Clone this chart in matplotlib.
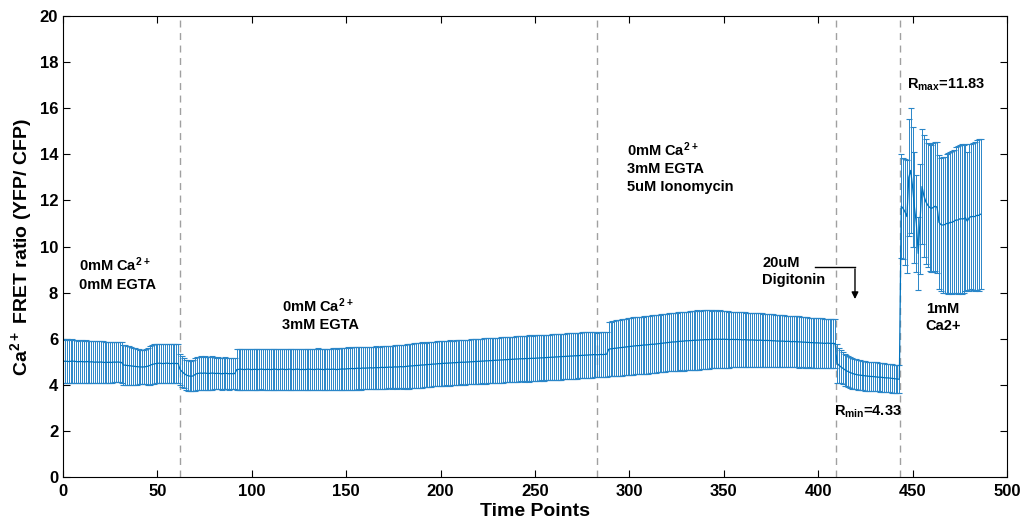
import numpy as np
import matplotlib
matplotlib.use('Agg')
import matplotlib.pyplot as plt

# FRET ratio mean per time point, one value per point
mean_ratio = [
    # 0-61: 0mM Ca2+ / 0mM EGTA
    5.03, 5.02, 5.02, 5.01, 5.02, 5.03, 5.02, 5.01, 5.00, 5.01,
    5.01, 5.00, 5.00, 5.01, 4.99, 5.00, 4.99, 4.98, 4.99, 4.98,
    4.99, 4.98, 4.97, 4.98, 4.97, 4.98, 4.97, 4.99, 4.98, 4.99,
    4.98, 4.97,
    4.86, 4.85, 4.84, 4.83, 4.82, 4.81, 4.80, 4.79, 4.78, 4.78, 4.77, 4.78, 4.79, 4.81, 4.84,
    4.88, 4.90, 4.92, 4.93, 4.94, 4.93, 4.92, 4.93, 4.94, 4.93, 4.92, 4.93, 4.92, 4.93, 4.92,
    # 62-91
    4.66, 4.58, 4.50, 4.44, 4.40, 4.38, 4.37, 4.39, 4.45, 4.49,
    4.50, 4.51, 4.50, 4.51, 4.50, 4.49, 4.50, 4.51, 4.50, 4.49,
    4.50, 4.49, 4.48, 4.49, 4.50, 4.49, 4.48, 4.49, 4.48, 4.49,
    # 92-288: 0mM Ca2+ / 3mM EGTA
    4.66, 4.67, 4.68, 4.67, 4.66, 4.67, 4.68, 4.67, 4.66, 4.67,
    4.67, 4.66, 4.67, 4.68, 4.67, 4.66, 4.67, 4.67, 4.66, 4.67,
    4.68, 4.67, 4.66, 4.67, 4.68, 4.67, 4.66, 4.67, 4.68, 4.67,
    4.66, 4.67, 4.68, 4.67, 4.66, 4.67, 4.66, 4.67, 4.68, 4.67,
    4.67, 4.66, 4.67, 4.68, 4.67, 4.67, 4.66, 4.67, 4.68, 4.67,
    4.67, 4.68, 4.67, 4.66, 4.67, 4.68, 4.69, 4.68, 4.69, 4.70,
    4.70, 4.71, 4.70, 4.71, 4.72, 4.71, 4.72, 4.73, 4.72, 4.73,
    4.73, 4.74, 4.73, 4.74, 4.75, 4.74, 4.75, 4.76, 4.75, 4.76,
    4.76, 4.77, 4.76, 4.77, 4.78, 4.77, 4.78, 4.79, 4.78, 4.79,
    4.80, 4.81, 4.82, 4.82, 4.83, 4.84, 4.84, 4.85, 4.86, 4.86,
    4.87, 4.88, 4.88, 4.89, 4.90, 4.90, 4.91, 4.92, 4.92, 4.93,
    4.93, 4.94, 4.94, 4.95, 4.95, 4.96, 4.96, 4.97, 4.97, 4.98,
    4.98, 4.98, 4.99, 4.99, 5.00, 5.00, 5.01, 5.01, 5.02, 5.02,
    5.03, 5.03, 5.04, 5.04, 5.05, 5.05, 5.06, 5.06, 5.07, 5.07,
    5.08, 5.08, 5.09, 5.09, 5.10, 5.10, 5.11, 5.11, 5.12, 5.12,
    5.13, 5.13, 5.13, 5.14, 5.14, 5.14, 5.15, 5.15, 5.15, 5.16,
    5.16, 5.17, 5.17, 5.18, 5.18, 5.19, 5.19, 5.20, 5.20, 5.21,
    5.21, 5.22, 5.22, 5.23, 5.23, 5.24, 5.24, 5.25, 5.25, 5.26,
    5.26, 5.27, 5.27, 5.28, 5.28, 5.29, 5.29, 5.30, 5.30, 5.31,
    5.31, 5.30, 5.31, 5.32, 5.31, 5.32, 5.33,
    # 289-409: + 5uM Ionomycin
    5.54, 5.56, 5.57, 5.58, 5.59, 5.60, 5.61, 5.62, 5.63, 5.64,
    5.65, 5.66, 5.67, 5.68, 5.69, 5.70, 5.70, 5.71, 5.72, 5.73,
    5.73, 5.74, 5.75, 5.76, 5.76, 5.77, 5.78, 5.79, 5.80, 5.81,
    5.82, 5.83, 5.84, 5.85, 5.86, 5.86, 5.87, 5.88, 5.89, 5.89,
    5.90, 5.91, 5.91, 5.92, 5.92, 5.93, 5.93, 5.94, 5.94, 5.95,
    5.95, 5.96, 5.96, 5.96, 5.97, 5.97, 5.97, 5.98, 5.97, 5.98,
    5.97, 5.98, 5.97, 5.97, 5.96, 5.97, 5.97, 5.96, 5.97, 5.96,
    5.96, 5.95, 5.96, 5.95, 5.95, 5.94, 5.95, 5.94, 5.94, 5.93,
    5.94, 5.93, 5.93, 5.92, 5.93, 5.92, 5.92, 5.91, 5.91, 5.90,
    5.90, 5.89, 5.90, 5.89, 5.88, 5.89, 5.88, 5.87, 5.88, 5.87,
    5.87, 5.86, 5.86, 5.85, 5.85, 5.84, 5.84, 5.83, 5.83, 5.82,
    5.82, 5.82, 5.81, 5.81, 5.80, 5.80, 5.81, 5.80, 5.79, 5.80,
    5.79,
    # 410-443: 20uM Digitonin
    4.93, 4.85, 4.78, 4.72, 4.66, 4.61, 4.57, 4.53, 4.50, 4.47,
    4.45, 4.43, 4.42, 4.41, 4.40, 4.39, 4.38, 4.37, 4.36, 4.36,
    4.35, 4.34, 4.33, 4.33, 4.32, 4.31, 4.30, 4.30, 4.29, 4.28,
    4.27, 4.26, 4.25, 4.24,
    # 444-486: 1mM Ca2+
    11.75, 11.65, 11.5, 11.3, 13.0, 13.3, 12.6, 11.7, 11.0, 9.7,
    11.2, 12.6, 12.2, 11.95, 11.8, 11.7, 11.65, 11.7, 11.75, 11.7,
    11.05, 10.95, 10.93, 10.95, 11.0, 11.0, 11.05, 11.05, 11.1, 11.15,
    11.15, 11.2, 11.2, 11.2, 11.25, 11.1, 11.25, 11.3, 11.3, 11.3,
    11.35, 11.35, 11.4,
]

# error bar half-height per time point
err_ratio = [
    0.95, 0.94, 0.95, 0.93, 0.94, 0.95, 0.93, 0.94, 0.92, 0.93,
    0.93, 0.92, 0.93, 0.91, 0.92, 0.91, 0.93, 0.90, 0.91, 0.90,
    0.89, 0.90, 0.88, 0.89, 0.88, 0.89, 0.87, 0.88, 0.87, 0.88,
    0.87, 0.88,
    0.87, 0.86, 0.85, 0.84, 0.82, 0.80, 0.79, 0.78, 0.76, 0.75, 0.74, 0.75, 0.77, 0.80, 0.84,
    0.86, 0.86, 0.85, 0.86, 0.85, 0.86, 0.85, 0.86, 0.85, 0.86, 0.85, 0.86, 0.85, 0.86, 0.86,
    0.66, 0.66, 0.65, 0.65, 0.66, 0.67, 0.66, 0.67, 0.70, 0.72,
    0.72, 0.73, 0.71, 0.72, 0.72, 0.70, 0.71, 0.72, 0.70, 0.69,
    0.70, 0.69, 0.70, 0.68, 0.69, 0.68, 0.69, 0.68, 0.67, 0.68,
    0.89, 0.88, 0.89, 0.90, 0.89, 0.88, 0.89, 0.90, 0.89, 0.88,
    0.89, 0.90, 0.89, 0.88, 0.89, 0.90, 0.89, 0.88, 0.89, 0.90,
    0.89, 0.88, 0.89, 0.90, 0.89, 0.88, 0.89, 0.90, 0.89, 0.88,
    0.89, 0.90, 0.89, 0.88, 0.89, 0.90, 0.89, 0.88, 0.89, 0.90,
    0.89, 0.88, 0.89, 0.90, 0.89, 0.88, 0.89, 0.90, 0.89, 0.88,
    0.89, 0.90, 0.91, 0.90, 0.91, 0.92, 0.91, 0.92, 0.91, 0.92,
    0.91, 0.92, 0.93, 0.92, 0.91, 0.92, 0.93, 0.92, 0.91, 0.92,
    0.93, 0.92, 0.91, 0.92, 0.93, 0.92, 0.91, 0.92, 0.93, 0.92,
    0.91, 0.92, 0.93, 0.92, 0.93, 0.94, 0.93, 0.94, 0.95, 0.94,
    0.96, 0.97, 0.96, 0.97, 0.98, 0.97, 0.96, 0.97, 0.98, 0.97,
    0.96, 0.97, 0.98, 0.97, 0.96, 0.97, 0.98, 0.97, 0.96, 0.97,
    0.97, 0.96, 0.97, 0.98, 0.97, 0.96, 0.97, 0.98, 0.97, 0.96,
    0.97, 0.98, 0.97, 0.96, 0.97, 0.98, 0.97, 0.96, 0.97, 0.98,
    0.97, 0.98, 0.99, 0.98, 0.97, 0.98, 0.99, 0.98, 0.97, 0.98,
    0.99, 0.98, 0.97, 0.98, 0.99, 0.98, 0.97, 0.98, 0.99, 0.98,
    0.97, 0.98, 0.99, 0.98, 0.99, 1.00, 0.99, 0.98, 0.99, 1.00,
    0.99, 0.98, 0.99, 1.00, 0.99, 0.98, 0.99, 1.00, 0.99, 0.98,
    0.99, 1.00, 0.99, 0.98, 0.99, 1.00, 0.99, 0.98, 0.99, 1.00,
    0.99, 0.98, 0.99, 1.00, 0.99, 0.98, 0.99, 1.00, 0.99, 0.98,
    0.97, 0.96, 0.97, 0.96, 0.97, 0.96, 0.97,
    1.17, 1.18, 1.19, 1.20, 1.21, 1.20, 1.22, 1.23, 1.22, 1.23,
    1.24, 1.23, 1.24, 1.25, 1.24, 1.23, 1.24, 1.25, 1.24, 1.25,
    1.26, 1.25, 1.24, 1.25, 1.26, 1.25, 1.24, 1.25, 1.26, 1.25,
    1.26, 1.25, 1.26, 1.27, 1.26, 1.25, 1.26, 1.27, 1.26, 1.27,
    1.28, 1.27, 1.26, 1.27, 1.28, 1.27, 1.28, 1.29, 1.28, 1.27,
    1.28, 1.27, 1.29, 1.27, 1.26, 1.25, 1.26, 1.25, 1.24, 1.25,
    1.24, 1.23, 1.22, 1.23, 1.22, 1.21, 1.20, 1.19, 1.20, 1.19,
    1.18, 1.19, 1.18, 1.17, 1.18, 1.17, 1.16, 1.17, 1.16, 1.17,
    1.16, 1.17, 1.16, 1.15, 1.16, 1.15, 1.14, 1.15, 1.14, 1.13,
    1.14, 1.13, 1.12, 1.13, 1.12, 1.11, 1.12, 1.11, 1.10, 1.11,
    1.10, 1.11, 1.10, 1.09, 1.10, 1.09, 1.08, 1.09, 1.08, 1.07,
    1.08, 1.07, 1.08, 1.07, 1.06, 1.07, 1.06, 1.07, 1.06, 1.07,
    1.06,
    0.83, 0.76, 0.72, 0.70, 0.69, 0.68, 0.67, 0.67, 0.66, 0.66,
    0.65, 0.65, 0.65, 0.64, 0.64, 0.64, 0.63, 0.64, 0.63, 0.63,
    0.63, 0.63, 0.62, 0.63, 0.62, 0.62, 0.62, 0.61, 0.62, 0.62,
    0.61, 0.62, 0.62, 0.61,
    2.25, 2.2, 2.3, 2.45, 2.55, 2.7, 2.6, 2.4, 2.1, 1.6,
    2.4, 2.5, 2.65, 2.7, 2.7, 2.75, 2.75, 2.8, 2.8, 2.85,
    2.9, 2.9, 2.95, 2.95, 3.0, 3.05, 3.05, 3.1, 3.1, 3.15,
    3.2, 3.2, 3.25, 3.2, 3.2, 3.0, 3.2, 3.15, 3.2, 3.25,
    3.25, 3.3, 3.25,
]

time_points = np.arange(len(mean_ratio))
treatment_changes = [62, 283, 409.5, 443.5]

plt.rcParams['font.family'] = ['Liberation Sans', 'DejaVu Sans']
plt.rcParams['font.weight'] = 'bold'
plt.rcParams['mathtext.fontset'] = 'custom'
plt.rcParams['mathtext.rm'] = 'Liberation Sans:bold'
plt.rcParams['mathtext.bf'] = 'Liberation Sans:bold'
plt.rcParams['mathtext.default'] = 'bf'

fig = plt.figure(figsize=(10.25, 5.25), dpi=100)
ax = fig.add_axes([0.0615, 0.0914, 0.9209, 0.8781])

blue = '#0072BD'
ax.errorbar(time_points, mean_ratio, yerr=err_ratio, color=blue, lw=0.9,
            elinewidth=0.7, capsize=2, capthick=0.8, ecolor='#2a86c8')

for xc in treatment_changes:
    ax.axvline(xc, color='#a0a0a0', lw=1, ls=(0, (5, 4)), zorder=0)

txt = dict(fontsize=10.5, fontweight='bold', va='top', ha='left', linespacing=1.3)
ax.text(8.5, 9.6, '0mM Ca$^{2+}$\n0mM EGTA', **txt)
ax.text(116, 7.85, '0mM Ca$^{2+}$\n3mM EGTA', **txt)
ax.text(298.5, 14.6, '0mM Ca$^{2+}$\n3mM EGTA\n5uM Ionomycin', **txt)
ax.text(370.5, 9.6, '20uM\nDigitonin', **txt)
ax.text(457, 7.6, '1mM\nCa2+', **txt)
ax.text(408.5, 2.85, 'R$_{min}$=4.33', fontsize=10.5, fontweight='bold', va='center', ha='left')
ax.text(447, 17.0, 'R$_{max}$=11.83', fontsize=10.5, fontweight='bold', va='center', ha='left')

# bent arrow pointing at the digitonin step
ax.plot([398.5, 419.5], [9.1, 9.1], color='black', lw=1)
ax.annotate('', xy=(419.5, 7.6), xytext=(419.5, 9.15),
            arrowprops=dict(arrowstyle='-|>', color='black', lw=1, mutation_scale=10))

ax.set_xlim(0, 500)
ax.set_ylim(0, 20)
ax.set_xticks(np.arange(0, 501, 50))
ax.set_yticks(np.arange(0, 21, 2))
ax.tick_params(direction='in', top=True, right=True, labelsize=12, length=5, width=0.8)
ax.tick_params(axis='x', pad=5)
for lab in ax.get_xticklabels() + ax.get_yticklabels():
    lab.set_fontweight('bold')
for sp in ax.spines.values():
    sp.set_linewidth(0.8)

ax.set_xlabel('Time Points', fontsize=14, fontweight='bold', labelpad=3)
ax.set_ylabel('Ca$^{2+}$ FRET ratio (YFP/ CFP)', fontsize=14, fontweight='bold', labelpad=4)

fig.savefig('out.png', dpi=100)
